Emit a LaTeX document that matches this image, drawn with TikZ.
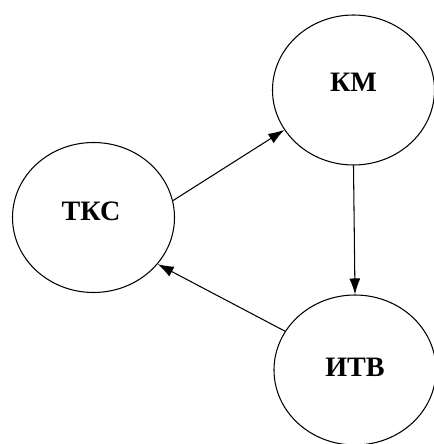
\documentclass[tikz,border=0pt]{standalone}
\usepackage{fontspec}
\setmainfont{Liberation Serif}
\usetikzlibrary{calc,shapes.geometric,arrows.meta}
\newcommand{\circtext}[1]{\fontsize{16}{18}\selectfont\textbf{#1}}
\def\circwdth{3.24}
\def\circheight{3.0}

\begin{document}
\begin{tikzpicture}[
  circ/.style={draw, ellipse, line width=0.6pt, minimum width=\circwdth cm, minimum height=\circheight cm, inner sep=0pt},
  link/.style={-{Latex[length=3.2mm,width=2.2mm]}, line width=0.6pt}]

\useasboundingbox (0,0) rectangle (8.68,8.88);

% TKS
\node[circ] (tks) at (1.87,4.53){};
\node at ($(tks)+(-0.05,0.13)$) {\circtext{ТКС}};

% KM
\node[circ] (km) at (7.07,7.08){};
\node at ($(km)+(0,0.15)$) {\circtext{КМ}};

% ITV
\node[circ] (itv) at (7.1,1.48){};
\node at ($(itv)+(0,0.05)$) {\circtext{ИТВ}};

% links
\draw[link] (tks.12) -- (km.210);
\draw[link] (km.south) -- (itv.north);
\draw[link] (itv.151) -- (tks.-36);
\end{tikzpicture}
\end{document}
